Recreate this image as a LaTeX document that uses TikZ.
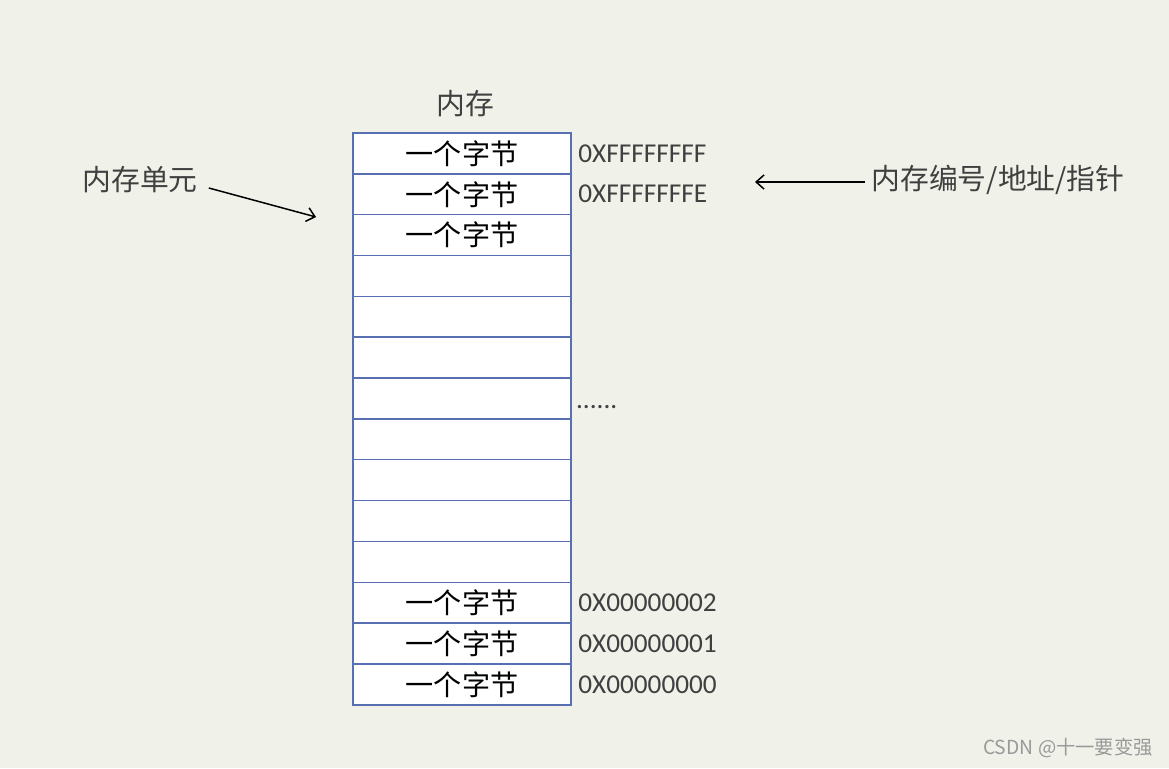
\documentclass[tikz,border=0pt]{standalone}
\usepackage{fontspec}
\setmainfont{Noto Sans CJK SC}
\newfontfamily\addrfont{Carlito}
\usetikzlibrary{arrows.meta, positioning}
\usepackage{xcolor}
\definecolor{pagebg}{RGB}{240,242,234}
\definecolor{cellblue}{RGB}{88,112,178}
\definecolor{labelgray}{RGB}{64,64,64}

\begin{document}
\begin{tikzpicture}[
    x=0.02cm, y=-0.02cm,
    cell/.style={rectangle, draw=cellblue, line width=0.85pt, fill=white,
                 minimum width=4.36cm, minimum height=0.817cm, outer sep=0pt,
                 inner sep=0pt, font=\fontsize{16}{18}\selectfont, text=black},
    addr/.style={font=\addrfont\fontsize{15.5}{17}\selectfont, text=labelgray,
                 inner sep=1pt},
    lbl/.style={font=\fontsize{16.4}{18}\selectfont, text=labelgray},
    arr/.style={-{Straight Barb[length=4.5pt, width=8pt]}, line width=0.85pt}
]
\fill[pagebg] (0,0) rectangle (1169,768);
\useasboundingbox (0,0) rectangle (1169,768);

\node[lbl] (mem) at (465,104) {内存};

\node[cell] (c1) at (462,153.4) {一个字节};
\node[cell, below=0pt of c1] (c2) {一个字节};
\node[cell, below=0pt of c2] (c3) {一个字节};
\node[cell, below=0pt of c3] (c4) {};
\node[cell, below=0pt of c4] (c5) {};
\node[cell, below=0pt of c5] (c6) {};
\node[cell, below=0pt of c6] (c7) {};
\node[cell, below=0pt of c7] (c8) {};
\node[cell, below=0pt of c8] (c9) {};
\node[cell, below=0pt of c9] (c10) {};
\node[cell, below=0pt of c10] (c11) {};
\node[cell, below=0pt of c11] (c12) {一个字节};
\node[cell, below=0pt of c12] (c13) {一个字节};
\node[cell, below=0pt of c13] (c14) {一个字节};

\node[addr, right=3pt of c1] (a1) {0XFFFFFFFF};
\node[addr, right=3pt of c2] (a2) {0XFFFFFFFE};
\node[addr, right=3pt of c12] (a12) {0X00000002};
\node[addr, right=3pt of c13] (a13) {0X00000001};
\node[addr, right=3pt of c14] (a14) {0X00000000};
\node[addr, anchor=west] (dots) at (574,407) {......};

\node[lbl] (unit) at (140,180) {内存单元};
\coordinate (unittip) at (316,217);
\draw[arr] ([shift={(5,8)}]unit.east) -- (unittip);

\node[lbl] (addrlbl) at (998,180) {内存编号/地址/指针};
\coordinate (addrtip) at (755,182);
\draw[arr] (addrlbl.west |- addrtip) -- (addrtip);

\node[font=\fontsize{11}{13}\selectfont, text=black!40] (mark) at (1068,748) {CSDN @十一要变强};
\end{tikzpicture}
\end{document}
